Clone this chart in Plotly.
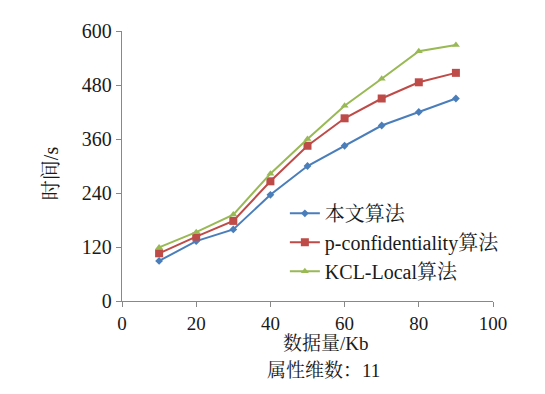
import plotly.graph_objects as go

x_vals = [10, 20, 30, 40, 50, 60, 70, 80, 90]
ours = [89, 133, 159, 236, 300, 345, 390, 420, 450]
p_conf = [106, 143, 178, 266, 345, 406, 450, 486, 507]
kcl_local = [119, 153, 192, 283, 360, 434, 494, 555, 569]
names = ["本文算法", "p-confidentiality算法", "KCL-Local算法"]
colors = ["#4A7EBB", "#BE4B48", "#98B954"]
symbols = ["diamond", "square", "triangle-up"]
sizes = [6, 8, 7]

FONT = "Liberation Serif, Times New Roman, Noto Serif CJK SC, Noto Sans CJK SC, serif"

fig = go.Figure()
for ys, n, c, s, sz in zip([ours, p_conf, kcl_local], names, colors, symbols, sizes):
    fig.add_trace(go.Scatter(x=x_vals, y=ys, name=n, mode="lines+markers",
                             line=dict(color=c, width=2),
                             marker=dict(symbol=s, size=sz, color=c)))

fig.update_layout(
    width=529, height=378,
    margin=dict(l=114, r=44, t=21, b=85),
    paper_bgcolor="white", plot_bgcolor="white",
    font=dict(family=FONT, size=20, color="#1a1a1a"),
    showlegend=True,
    legend=dict(x=0.439, y=0.397, xanchor="left", yanchor="top",
                bgcolor="rgba(0,0,0,0)", font=dict(size=20), tracegroupgap=0,
                itemsizing="trace"),
    xaxis=dict(range=[0, 100], tickvals=[0, 20, 40, 60, 80, 100], showgrid=False,
               showline=True, linecolor="#888", linewidth=1.3, ticks="outside",
               tickcolor="#888", ticklen=5, zeroline=False, tickfont=dict(size=19)),
    yaxis=dict(range=[0, 600], tickvals=[0, 120, 240, 360, 480, 600], showgrid=False,
               showline=True, linecolor="#888", linewidth=1.3, ticks="outside",
               tickcolor="#888", ticklen=5, zeroline=False, tickfont=dict(size=20)),
    annotations=[
        dict(text="数据量/Kb", x=0.55, xref="paper", y=-0.158, yref="paper",
             showarrow=False, xanchor="center", yanchor="middle", font=dict(size=19)),
        dict(text="属性维数：11", x=0.544, xref="paper", y=-0.258, yref="paper",
             showarrow=False, xanchor="center", yanchor="middle", font=dict(size=19)),
        dict(text="时间/s", x=-0.191, xref="paper", y=0.474, yref="paper", textangle=-90,
             showarrow=False, xanchor="center", yanchor="middle", font=dict(size=20)),
    ],
)

fig.write_html("out.html")
